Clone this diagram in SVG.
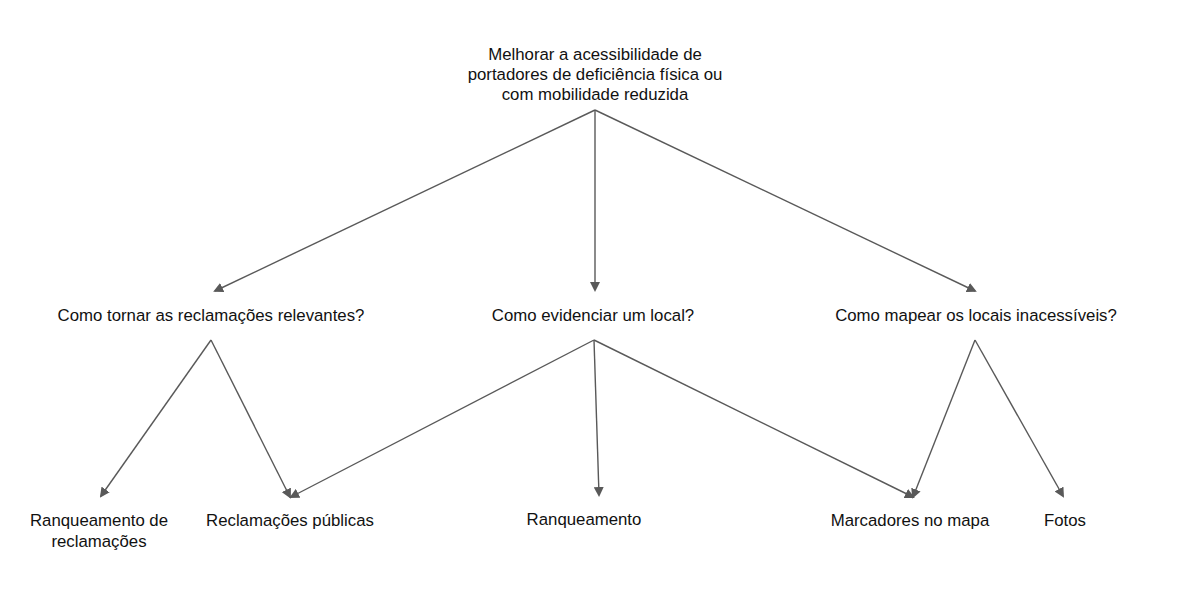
<svg xmlns="http://www.w3.org/2000/svg" width="1191" height="606" viewBox="0 0 1191 606">
<style>
text{font-family:"Liberation Sans",Arial,sans-serif;font-size:16.8px;fill:#111;text-anchor:middle}
.c line{stroke:#595959;stroke-width:1.4;fill:none}
</style>
<defs>
<marker id="ah" markerWidth="10" markerHeight="10" refX="8" refY="5" orient="auto" markerUnits="userSpaceOnUse">
<path d="M0,0 L10,5 L0,10 z" fill="#595959"/>
</marker>
</defs>
<rect width="1191" height="606" fill="#fff"/>
<g class="c" id="connectors">
<line x1="595" y1="110" x2="215" y2="291" marker-end="url(#ah)"/>
<line x1="595" y1="110" x2="595" y2="290" marker-end="url(#ah)"/>
<line x1="595" y1="110" x2="975" y2="291" marker-end="url(#ah)"/>
<line x1="211" y1="340" x2="101" y2="496" marker-end="url(#ah)"/>
<line x1="211" y1="340" x2="290" y2="497" marker-end="url(#ah)"/>
<line x1="594" y1="340" x2="291" y2="497" marker-end="url(#ah)"/>
<line x1="594" y1="340" x2="599" y2="495" marker-end="url(#ah)"/>
<line x1="594" y1="340" x2="913" y2="497" marker-end="url(#ah)"/>
<line x1="975" y1="340" x2="913" y2="497" marker-end="url(#ah)"/>
<line x1="975" y1="340" x2="1063" y2="496" marker-end="url(#ah)"/>
</g>
<g id="root"><text x="595" y="60">Melhorar a acessibilidade de</text><text x="595" y="80">portadores de deficiência física ou</text><text x="595" y="100">com mobilidade reduzida</text></g>
<g id="q1"><text x="211" y="321">Como tornar as reclamações relevantes?</text></g>
<g id="q2"><text x="593" y="321">Como evidenciar um local?</text></g>
<g id="q3"><text x="976" y="321">Como mapear os locais inacessíveis?</text></g>
<g id="n1"><text x="99" y="526">Ranqueamento de</text><text x="99" y="547">reclamações</text></g>
<g id="n2"><text x="290" y="526">Reclamações públicas</text></g>
<g id="n3"><text x="584" y="525">Ranqueamento</text></g>
<g id="n4"><text x="910" y="526">Marcadores no mapa</text></g>
<g id="n5"><text x="1065" y="526">Fotos</text></g>
</svg>
